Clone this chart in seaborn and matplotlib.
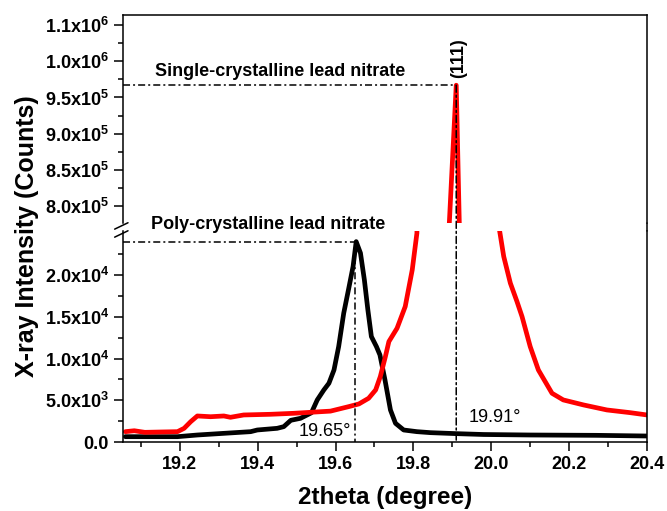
import matplotlib
matplotlib.use("Agg")
import matplotlib.pyplot as plt
import pandas as pd
import seaborn as sns
from matplotlib.lines import Line2D
from matplotlib.patches import ConnectionPatch
from matplotlib.ticker import FixedLocator, MultipleLocator

# Single-crystalline lead nitrate scan (2theta in degree, counts)
single_theta = [19.06, 19.083, 19.11, 19.15, 19.194, 19.211, 19.228, 19.245,
                19.279, 19.313, 19.33, 19.364, 19.433, 19.493, 19.536, 19.587,
                19.634, 19.66, 19.685, 19.703, 19.715, 19.728, 19.737, 19.758,
                19.779, 19.797, 19.809, 19.8385, 19.91, 19.9376, 20.021, 20.032,
                20.049, 20.066, 20.079, 20.1, 20.121, 20.156, 20.185, 20.237,
                20.297, 20.356, 20.4]
single_counts = [1240, 1350, 1160, 1200, 1240, 1640, 2440, 3120,
                 3030, 3120, 2960, 3240, 3320, 3440, 3560, 3700,
                 4240, 4560, 5240, 6240, 7840, 10230, 12030, 13630,
                 16230, 20620, 25020, 200000, 967000, 300000, 25420, 22220,
                 19030, 16830, 15030, 11430, 8630, 5840, 5040, 4440,
                 3840, 3520, 3240]

# Poly-crystalline lead nitrate scan
poly_theta = [19.06, 19.194, 19.245, 19.313, 19.382, 19.399, 19.45, 19.467,
              19.485, 19.51, 19.538, 19.553, 19.57, 19.583, 19.596, 19.608,
              19.621, 19.634, 19.645, 19.653, 19.664, 19.674, 19.683, 19.692,
              19.705, 19.714, 19.727, 19.741, 19.754, 19.775, 19.809, 19.844,
              19.912, 19.98, 20.1, 20.27, 20.4]
poly_counts = [640, 640, 840, 1040, 1240, 1440, 1640, 1840,
               2600, 2840, 3500, 5040, 6240, 7040, 8630, 11430,
               15430, 18430, 21020, 24000, 22630, 19430, 15830, 12630,
               11430, 10430, 7430, 3840, 2240, 1440, 1240, 1120,
               1000, 900, 840, 800, 720]

# Peak markers
single_peak_theta = 19.91
single_peak_counts = 967000
poly_peak_theta = 19.65
poly_peak_counts = 24000

# Axis ticks and labels
x_ticks = [19.2, 19.4, 19.6, 19.8, 20.0, 20.2, 20.4]
x_tick_labels = ["19.2", "19.4", "19.6", "19.8", "20.0", "20.2", "20.4"]
upper_ticks = [8.0e5, 8.5e5, 9.0e5, 9.5e5, 1.0e6, 1.05e6]
upper_tick_labels = [r"8.0x10$^{5}$", r"8.5x10$^{5}$", r"9.0x10$^{5}$",
                     r"9.5x10$^{5}$", r"1.0x10$^{6}$", r"1.1x10$^{6}$"]
upper_minor = [8.25e5, 8.75e5, 9.25e5, 9.75e5, 1.025e6]
lower_ticks = [0, 5000, 10000, 15000, 20000]
lower_tick_labels = ["0.0", r"5.0x10$^{3}$", r"1.0x10$^{4}$",
                     r"1.5x10$^{4}$", r"2.0x10$^{4}$"]
lower_minor = [2500, 7500, 12500, 17500, 22500]

x_range = (19.054, 20.4)
upper_range = (7.765e5, 1.064e6)
lower_range = (0, 25270)

sns.set_theme(style="ticks")
plt.rcParams.update({
    "font.weight": "bold",
    "text.color": "black",
    "axes.labelcolor": "black",
    "mathtext.fontset": "custom",
    "mathtext.rm": "Liberation Sans:bold",
    "mathtext.it": "Liberation Sans:bold",
    "mathtext.bf": "Liberation Sans:bold",
    "axes.linewidth": 1.1,
    "xtick.major.width": 1.1, "ytick.major.width": 1.1,
    "xtick.minor.width": 1.1, "ytick.minor.width": 1.1,
    "xtick.major.size": 6.5, "ytick.major.size": 6.5,
    "xtick.minor.size": 3.6, "ytick.minor.size": 3.6,
    "xtick.direction": "out", "ytick.direction": "out",
    "xtick.color": "black", "ytick.color": "black",
    "xtick.labelcolor": "black", "ytick.labelcolor": "black",
    "axes.edgecolor": "black",
})
plt.rcParams["font.family"] = ["Liberation Sans", "DejaVu Sans"]

scans = pd.concat([
    pd.DataFrame({"theta": poly_theta, "counts": poly_counts, "sample": "poly"}),
    pd.DataFrame({"theta": single_theta, "counts": single_counts, "sample": "single"}),
], ignore_index=True)
palette = {"poly": "black", "single": "#ff0000"}

fig = plt.figure(figsize=(6.67, 5.11), dpi=100)
left, width = 0.1844, 0.7856
ax_top = fig.add_axes([left, 0.5636, width, 0.9706 - 0.5636])
ax_bot = fig.add_axes([left, 0.135, width, 0.5479 - 0.135])

for ax in (ax_top, ax_bot):
    sns.lineplot(data=scans, x="theta", y="counts", hue="sample",
                 hue_order=["poly", "single"], palette=palette,
                 estimator=None, sort=False, linewidth=3.4, legend=False, ax=ax)
    ax.set_xlim(*x_range)
    ax.set_xlabel("")
    ax.set_ylabel("")
    ax.tick_params(labelsize=13, colors="black")

ax_top.set_ylim(*upper_range)
ax_top.yaxis.set_major_locator(FixedLocator(upper_ticks))
ax_top.set_yticklabels(upper_tick_labels, fontsize=13, fontweight="bold", color="black")
ax_top.yaxis.set_minor_locator(FixedLocator(upper_minor))
ax_top.spines["bottom"].set_visible(False)
ax_top.tick_params(axis="x", which="both", bottom=False, labelbottom=False)

ax_bot.set_ylim(*lower_range)
ax_bot.yaxis.set_major_locator(FixedLocator(lower_ticks))
ax_bot.set_yticklabels(lower_tick_labels, fontsize=13, fontweight="bold", color="black")
ax_bot.yaxis.set_minor_locator(FixedLocator(lower_minor))
ax_bot.set_xticks(x_ticks)
ax_bot.set_xticklabels(x_tick_labels, fontsize=13, fontweight="bold", color="black")
ax_bot.xaxis.set_minor_locator(MultipleLocator(0.1))
ax_bot.spines["top"].set_visible(False)

dashdot = (0, (4.6, 2.0, 1.3, 2.0))
line_kw = dict(color="black", linewidth=1.1, linestyle=dashdot)

# Peak guide lines
ax_top.plot([x_range[0], single_peak_theta], [single_peak_counts] * 2, **line_kw)
ax_bot.plot([x_range[0], poly_peak_theta], [poly_peak_counts] * 2, **line_kw)
ax_bot.plot([poly_peak_theta] * 2, [poly_peak_counts, 0], **line_kw)
vline = ConnectionPatch(xyA=(single_peak_theta, single_peak_counts), coordsA=ax_top.transData,
                        xyB=(single_peak_theta, 0), coordsB=ax_bot.transData,
                        arrowstyle="-", shrinkA=0, shrinkB=0, **line_kw)
fig.add_artist(vline)

# Axis break marks and the right frame across the gap
y_gap_top, y_gap_bot = 0.5636, 0.5479
for y0 in (y_gap_top - 0.012, y_gap_bot - 0.012):
    fig.add_artist(Line2D([left - 0.0125, left + 0.0075], [y0, y0 + 0.0125],
                          transform=fig.transFigure, color="black", linewidth=1.1))
fig.add_artist(Line2D([left + width] * 2, [y_gap_bot, y_gap_top],
                      transform=fig.transFigure, color="black", linewidth=1.1))

# Annotations
ax_top.text(19.135, 9.797e5, "Single-crystalline lead nitrate",
            fontsize=13, fontweight="bold", ha="left", va="baseline")
ax_top.text(19.916, 9.77e5, "(111)", rotation=90, fontsize=13,
            fontweight="bold", ha="center", va="bottom")
ax_bot.text(19.127, 25500, "Poly-crystalline lead nitrate",
            fontsize=13, fontweight="bold", ha="left", va="baseline")
ax_bot.text(19.506, 750, "19.65°", fontsize=13, fontweight="normal",
            ha="left", va="baseline")
ax_bot.text(19.942, 2430, "19.91°", fontsize=13, fontweight="normal",
            ha="left", va="baseline")

fig.text(0.04, 0.538, "X-ray Intensity (Counts)", rotation=90,
         fontsize=18, fontweight="bold", ha="center", va="center")
fig.text(0.578, 0.014, "2theta (degree)", fontsize=17.5,
         fontweight="bold", ha="center", va="baseline")

fig.savefig("out.png", dpi=100)
